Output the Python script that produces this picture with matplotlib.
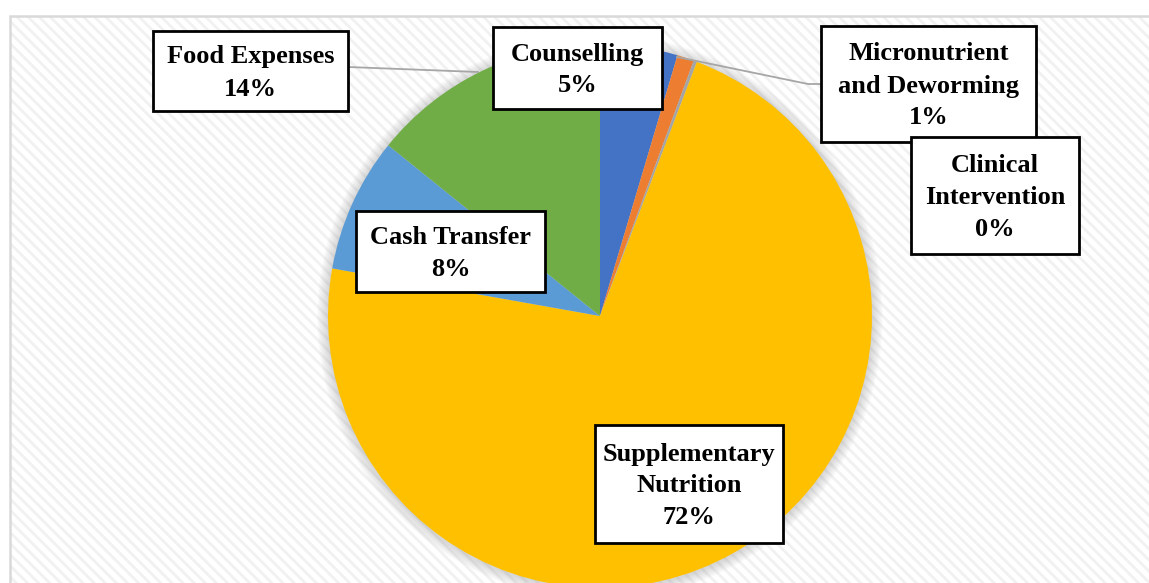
import matplotlib.pyplot as plt
from matplotlib.patches import Rectangle, Circle

# Data (share of spending, %)
categories = ["Counselling", "Micronutrient\nand Deworming", "Clinical\nIntervention",
              "Supplementary\nNutrition", "Cash Transfer", "Food Expenses"]
values = [4.6, 1.0, 0.2, 72.0, 8.0, 14.2]
colors = ["#4472C4", "#ED7D31", "#A5A5A5", "#FFC000", "#5B9BD5", "#70AD47"]

# label boxes in pixel coords (x0, y0, x1, y1), top-left origin
label_boxes = [(493, 27, 662, 109), (821, 26, 1036, 142), (911, 137, 1079, 254),
               (595, 425, 783, 543), (356, 211, 545, 292), (153, 31, 348, 111)]

W, H = 1149, 583
plt.rcParams['hatch.linewidth'] = 2.0


def py(y):
    return H - y


# Creating the figure
fig = plt.figure(figsize=(W / 100, H / 100), dpi=100)
ax = fig.add_axes([0, 0, 1, 1])

# Hatched chart area + light border
ax.add_patch(Rectangle((10, -20), W + 20, py(16) + 20, facecolor="white",
                       edgecolor="#f1f1f1", linewidth=0, hatch="\\\\\\", zorder=0))
ax.add_patch(Rectangle((10, -20), W + 20, py(16) + 20, facecolor="none",
                       edgecolor="#d9d9d9", linewidth=1.8, zorder=0.5))

# Soft shadow around the pie
cx, cy, r = 600, py(316), 272
for k in range(1, 10):
    ax.add_patch(Circle((cx, cy - 1), r + k * 1.2, facecolor="#808080",
                        edgecolor="none", alpha=0.035, zorder=1))

ax.pie(values, colors=colors, startangle=90, counterclock=False,
       center=(cx, cy), radius=r, wedgeprops=dict(linewidth=0, zorder=2))

# Leader lines
ax.plot([348, 478], [py(67), py(72)], color="#a6a6a6", lw=1.3, zorder=3)
ax.plot([677, 808, 821], [py(57), py(84), py(84)], color="#a6a6a6", lw=1.3, zorder=3)

# Data labels
for i, (name, val) in enumerate(zip(categories, values)):
    x0, y0, x1, y1 = label_boxes[i]
    ax.add_patch(Rectangle((x0, py(y1)), x1 - x0, y1 - y0, facecolor="white",
                           edgecolor="black", linewidth=2, zorder=4 + i * 0.1))
    ax.text((x0 + x1) / 2, py((y0 + y1) / 2 + 2), "%s\n%d%%" % (name, round(val)),
            ha="center", va="center", fontsize=19, fontweight="bold",
            family="Liberation Serif", linespacing=1.5, zorder=4.05 + i * 0.1)

ax.set_xlim(0, W)
ax.set_ylim(0, H)
ax.axis("off")

# Saving the chart
plt.savefig("out.png", dpi=100)
plt.close()
